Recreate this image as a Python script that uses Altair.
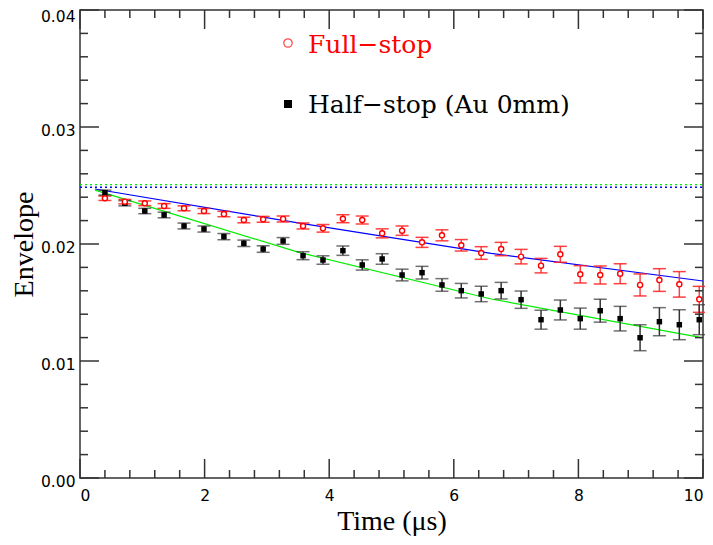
import altair as alt
import pandas as pd

# ---- data ----
time_us = [0.40, 0.72, 1.04, 1.35, 1.67, 1.99, 2.31, 2.63, 2.94, 3.26, 3.58,
           3.90, 4.22, 4.53, 4.85, 5.17, 5.49, 5.81, 6.12, 6.44, 6.76, 7.08,
           7.40, 7.71, 8.03, 8.35, 8.67, 8.99, 9.30, 9.62, 9.94]

full_stop = [0.02391, 0.02362, 0.02348, 0.02325, 0.02305, 0.02282, 0.02256, 0.02205,
             0.02211, 0.02214, 0.02154, 0.02134, 0.02216, 0.02205, 0.02091, 0.02114,
             0.02014, 0.02074, 0.01989, 0.01923, 0.01957, 0.01892, 0.01815, 0.01912,
             0.01741, 0.01735, 0.01746, 0.01650, 0.01692, 0.01655, 0.01527]
full_err = [0.00019, 0.00019, 0.00020, 0.000205, 0.00021, 0.00022, 0.00023, 0.00024,
            0.00025, 0.000256, 0.000256, 0.000325, 0.00034, 0.00034, 0.000385, 0.00040,
            0.00043, 0.00047, 0.00049, 0.00054, 0.00057, 0.00062, 0.00062, 0.00068,
            0.00074, 0.00077, 0.00085, 0.00094, 0.00097, 0.00109, 0.00111]

half_stop = [0.02439, 0.02348, 0.02282, 0.02248, 0.02154, 0.02128, 0.02063, 0.02006,
             0.01957, 0.02026, 0.01900, 0.01863, 0.01943, 0.01821, 0.01872, 0.01735,
             0.01755, 0.01650, 0.01601, 0.01573, 0.01601, 0.01524, 0.01353, 0.01436,
             0.01362, 0.01430, 0.01362, 0.01199, 0.01336, 0.01310, 0.01353]
half_err = [0.00021, 0.00022, 0.00023, 0.00024, 0.00025, 0.00026, 0.000265, 0.000275,
            0.00028, 0.00029, 0.00034, 0.00036, 0.00040, 0.00044, 0.00045, 0.00050,
            0.00054, 0.00054, 0.00062, 0.00066, 0.00071, 0.00074, 0.00081, 0.00085,
            0.00090, 0.00098, 0.00105, 0.00111, 0.00120, 0.00128, 0.00128]

fit_x = [0.24, 3.5, 6.6, 10.0]
fit_full = [0.0247, 0.0218, 0.0192, 0.01684]
fit_half = [0.0246, 0.0193, 0.0153, 0.01197]

ref_full = 0.02485
ref_half = 0.02507

x_major = [0, 2, 4, 6, 8, 10]
x_minor = [0.4, 0.8, 1.2, 1.6, 2.4, 2.8, 3.2, 3.6, 4.4, 4.8, 5.2, 5.6,
           6.4, 6.8, 7.2, 7.6, 8.4, 8.8, 9.2, 9.6]
y_major = [0.0, 0.01, 0.02, 0.03, 0.04]
y_minor = [0.002, 0.004, 0.006, 0.008, 0.012, 0.014, 0.016, 0.018,
           0.022, 0.024, 0.026, 0.028, 0.032, 0.034, 0.036, 0.038]

legend_labels = ["Full−stop", "Half−stop (Au 0mm)"]

# ---- tables ----
W, H = 623, 468
pts = pd.DataFrame({
    "x": time_us,
    "full": full_stop, "full_lo": [v - e for v, e in zip(full_stop, full_err)],
    "full_hi": [v + e for v, e in zip(full_stop, full_err)],
    "half": half_stop, "half_lo": [v - e for v, e in zip(half_stop, half_err)],
    "half_hi": [v + e for v, e in zip(half_stop, half_err)],
})
fits = pd.DataFrame({"x": fit_x, "full": fit_full, "half": fit_half})
refs = pd.DataFrame({"x": [0, 10], "full": [ref_full] * 2, "half": [ref_half] * 2})

xs = alt.Scale(domain=[0, 10], nice=False, zero=False)
ys = alt.Scale(domain=[0, 0.04], nice=False, zero=False)

LABEL_FONT = "DejaVu Sans"
TITLE_FONT = "Liberation Serif"

x_axis = alt.Axis(
    values=x_major, format="d", ticks=False, domain=False, grid=False,
    labelFont=LABEL_FONT, labelFontSize=15.5, labelColor="black", labelPadding=10,
    title="Time (μs)", titleFont=TITLE_FONT, titleFontSize=28,
    titleFontWeight="normal", titleColor="black", titlePadding=4)
y_axis = alt.Axis(
    values=y_major, format=".2f", ticks=False, domain=False, grid=False,
    labelFont=LABEL_FONT, labelFontSize=15.5, labelColor="black", labelPadding=5,
    labelOffset={"condition": {"test": "datum.value >= 0.039", "value": 6}, "value": 3},
    title="Envelope", titleFont=TITLE_FONT, titleFontSize=28,
    titleFontWeight="normal", titleColor="black", titlePadding=2)

Xn = alt.X("x:Q", scale=xs, axis=x_axis)

def Yn(f):
    return alt.Y(f + ":Q", scale=ys, axis=y_axis)

base_ref = alt.Chart(refs)
ref_full_l = base_ref.mark_line(color="#0000ff", strokeDash=[2, 3], strokeWidth=1.3).encode(x=Xn, y=Yn("full"))
ref_half_l = base_ref.mark_line(color="#00ee00", strokeDash=[2, 3], strokeWidth=1.3).encode(x=Xn, y=Yn("half"))

base_fit = alt.Chart(fits)
fit_full_l = base_fit.mark_line(color="#0000ff", strokeWidth=1.2).encode(x=Xn, y=Yn("full"))
fit_half_l = base_fit.mark_line(color="#00ee00", strokeWidth=1.2).encode(x=Xn, y=Yn("half"))

bp = alt.Chart(pts)
RED = "#ff2020"
GRY = "#333333"
full_bar = bp.mark_rule(color=RED, strokeWidth=1.5, opacity=0.85).encode(
    x=Xn, y=Yn("full_lo"), y2="full_hi:Q")
full_cap_lo = bp.mark_tick(color=RED, orient="horizontal", size=13, thickness=1.5, opacity=0.85).encode(x=Xn, y=Yn("full_lo"))
full_cap_hi = bp.mark_tick(color=RED, orient="horizontal", size=13, thickness=1.5, opacity=0.85).encode(x=Xn, y=Yn("full_hi"))
half_bar = bp.mark_rule(color=GRY, strokeWidth=1.5).encode(
    x=Xn, y=Yn("half_lo"), y2="half_hi:Q")
half_cap_lo = bp.mark_tick(color=GRY, orient="horizontal", size=13, thickness=1.5).encode(x=Xn, y=Yn("half_lo"))
half_cap_hi = bp.mark_tick(color=GRY, orient="horizontal", size=13, thickness=1.5).encode(x=Xn, y=Yn("half_hi"))

full_pts = bp.mark_point(shape="circle", filled=True, fill="white", fillOpacity=1,
                         stroke="#ff0000", strokeWidth=1.4, size=26, opacity=1).encode(x=Xn, y=Yn("full"))
half_pts = bp.mark_square(color="black", size=30, opacity=1).encode(x=Xn, y=Yn("half"))

# ---- inward ticks on all four sides ----
def xticks(vals, length):
    d = alt.Chart(pd.DataFrame({"x": vals}))
    bot = d.mark_rule(color=GRY, strokeWidth=1.5).encode(
        x=Xn, y=alt.value(H), y2=alt.value(H - length))
    top = d.mark_rule(color=GRY, strokeWidth=1.5).encode(
        x=Xn, y=alt.value(0), y2=alt.value(length))
    return [bot, top]

def yticks(vals, length):
    d = alt.Chart(pd.DataFrame({"yv": vals}))
    left = d.mark_rule(color=GRY, strokeWidth=1.5).encode(
        y=Yn("yv"), x=alt.value(0), x2=alt.value(length))
    right = d.mark_rule(color=GRY, strokeWidth=1.5).encode(
        y=Yn("yv"), x=alt.value(W), x2=alt.value(W - length))
    return [left, right]

ticks = xticks(x_major, 19) + xticks(x_minor, 8) + yticks(y_major, 19) + yticks(y_minor, 8)

# ---- legend drawn inside the plot ----
one = pd.DataFrame({"k": [0]})
leg_full_sym = alt.Chart(one).mark_point(
    shape="circle", filled=False, stroke="#ff0000", strokeWidth=1.3, size=70).encode(
    x=alt.value(208), y=alt.value(33))
leg_half_sym = alt.Chart(one).mark_square(
    color="black", size=64, opacity=1).encode(x=alt.value(208), y=alt.value(94))
leg_full_txt = alt.Chart(pd.DataFrame({"label": [legend_labels[0]]})).mark_text(
    font="DejaVu Serif", fontSize=25, color="#ff0000", align="left", baseline="alphabetic").encode(
    x=alt.value(228), y=alt.value(43), text="label:N")
leg_half_txt = alt.Chart(pd.DataFrame({"label": [legend_labels[1]]})).mark_text(
    font="DejaVu Serif", fontSize=25, color="black", align="left", baseline="alphabetic").encode(
    x=alt.value(228), y=alt.value(103), text="label:N")

chart = alt.layer(
    ref_full_l, ref_half_l, fit_full_l, fit_half_l,
    full_bar, full_cap_lo, full_cap_hi, half_bar, half_cap_lo, half_cap_hi,
    half_pts, full_pts, *ticks,
    leg_full_sym, leg_half_sym, leg_full_txt, leg_half_txt,
).properties(
    width=W, height=H,
    autosize=alt.AutoSizeParams(type="none"),
    padding={"left": 72, "top": 2, "right": 2, "bottom": 59},
    background="white",
).configure_view(stroke=GRY, strokeWidth=1.5)

chart.save("out.html", embed_options={"renderer": "svg", "actions": False})
